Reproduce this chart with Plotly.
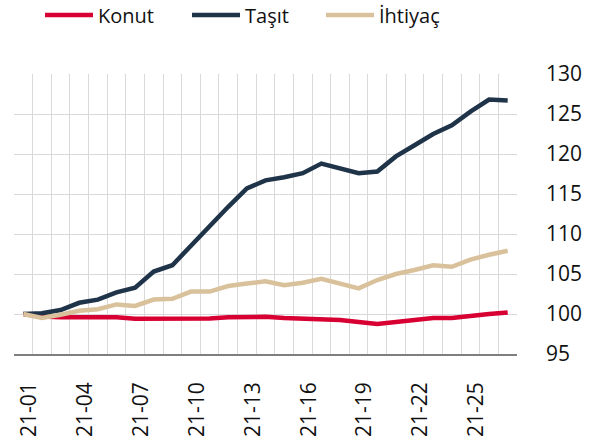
import plotly.graph_objects as go

# Weekly index values (21-01 = 100)
weeks = [f"21-{i:02d}" for i in range(1, 28)]
konut = [100.0, 99.7, 99.6, 99.6, 99.55, 99.6, 99.4, 99.4, 99.4, 99.5, 99.45, 99.6, 99.6, 99.65,
         99.5, 99.4, 99.4, 99.25, 99.0, 98.75, 99.0, 99.3, 99.5, 99.5, 99.8, 100.0, 100.2]
tasit = [100.0, 100.1, 100.5, 101.4, 101.8, 102.7, 103.3, 105.3, 106.1, 108.6, 111.1, 113.4, 115.7, 116.7,
         117.1, 117.6, 118.8, 118.2, 117.6, 117.8, 119.7, 121.1, 122.5, 123.6, 125.3, 126.8, 126.7]
ihtiyac = [100.0, 99.5, 99.9, 100.4, 100.6, 101.2, 101.0, 101.8, 101.9, 102.8, 102.8, 103.5, 103.8, 104.1,
           103.6, 103.9, 104.4, 103.8, 103.2, 104.25, 105.0, 105.5, 106.1, 105.9, 106.8, 107.4, 107.9]

# name, values, colour, legend entry width (px)
series = [("Konut", konut, "#D80032", 84),
          ("Taşıt", tasit, "#1F3349", 71),
          ("İhtiyaç", ihtiyac, "#D9C19C", 70)]

# Label every third week on the x axis; the others keep a blank label so
# that every week still gets its own gridline
tick_text = [w if i % 3 == 0 else " " for i, w in enumerate(weeks)]
y_ticks = [95, 100, 105, 110, 115, 120, 125, 130]

FONT = "Open Sans"

fig = go.Figure()
for name, vals, color, lw in series:
    fig.add_trace(go.Scatter(x=weeks, y=vals, name=name, mode="lines",
                             line=dict(color=color, width=4.5), legendwidth=lw))

fig.update_layout(
    width=603, height=444,
    margin=dict(l=14, r=86, t=74, b=90),
    paper_bgcolor="white", plot_bgcolor="white",
    font=dict(family=FONT, size=21, color="#111111"),
    showlegend=True,
    legend=dict(orientation="h", xref="container", yref="container",
                x=40 / 603, y=1 - 15 / 444, xanchor="left", yanchor="middle",
                itemwidth=48, font=dict(size=20), tracegroupgap=0,
                bgcolor="rgba(0,0,0,0)"),
    xaxis=dict(type="category", tickmode="array", tickvals=weeks, ticktext=tick_text,
               tickangle=-90, tickson="boundaries", ticks="", range=[-0.5, 26.5],
               showgrid=True, gridcolor="#D9D9D9", gridwidth=1,
               showline=True, linecolor="#7F7F7F", linewidth=1.5,
               automargin=False, ticklabelstandoff=18, ticklabelshift=6,
               tickfont=dict(size=21)),
    yaxis=dict(side="right", range=[95, 130], tickvals=y_ticks,
               showgrid=True, gridcolor="#D9D9D9", gridwidth=1,
               zeroline=False, showline=False, ticks="", automargin=False,
               ticklabelstandoff=28, tickfont=dict(size=21)),
)

fig.write_html("out.html")
